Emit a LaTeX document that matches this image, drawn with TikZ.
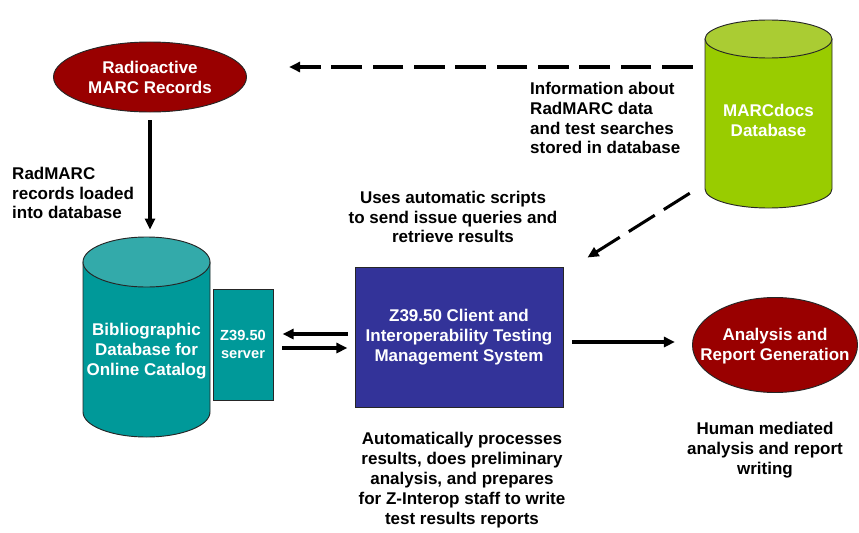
\documentclass[tikz,border=0pt]{standalone}
\usepackage{fontspec}
\setmainfont{Liberation Sans}
\usetikzlibrary{shapes.geometric,arrows.meta,calc}
\definecolor{darkred}{HTML}{990000}
\definecolor{dbteal}{HTML}{009999}
\definecolor{dbtealtop}{HTML}{33AAAA}
\definecolor{dbgreen}{HTML}{99CC00}
\definecolor{dbgreentop}{HTML}{AACC33}
\definecolor{sysblue}{HTML}{333399}
\begin{document}
\begin{tikzpicture}[x=.03cm,y=.03cm,
	boxtext/.style={font=\bfseries\fontsize{14.5}{17}\selectfont,align=center,inner sep=0pt},
	white text/.style={boxtext,text=white},
	outline/.style={draw=black!85,line width=.8pt},
	arr/.style={line width=2.6pt,-{Triangle[length=9.5pt,width=8.5pt]}},
	dasharr/.style={arr,dash pattern=on .92cm off .32cm}]
\useasboundingbox (0,0) rectangle (859,-533);
% the two databases
\filldraw[outline,fill=dbteal]
	(83,-262)--(83,-412)arc[start angle=180,end angle=360,x radius=63.5,y radius=25]--(210,-262)--cycle;
\filldraw[outline,fill=dbtealtop](146.5,-262)ellipse[x radius=63.5,y radius=25];
\filldraw[outline,fill=dbgreen]
	(705,-39)--(705,-189)arc[start angle=180,end angle=360,x radius=63.5,y radius=19]--(832,-39)--cycle;
\filldraw[outline,fill=dbgreentop](768.5,-39)ellipse[x radius=63.5,y radius=19];
\node[minimum width=3.81cm,minimum height=6cm,inner sep=0](bibdb)at(146.5,-337){};
\node[minimum width=3.81cm,minimum height=5.64cm,inner sep=0](marcdb)at(768.5,-114){};
\node[white text](bibtxt)at(146.5,-351){Bibliographic\\Database for\\Online Catalog};
\node[white text](marctxt)at(768.5,-120){MARCdocs\\Database};
% records and report ellipses
\node[ellipse,outline,fill=darkred,minimum width=5.79cm,minimum height=2.1cm](radmarc)at(150,-77){};
\node[white text](radtxt)at(radmarc){Radioactive\\MARC Records};
\node[ellipse,outline,fill=darkred,minimum width=4.95cm,minimum height=2.85cm](analysis)at(775,-345){};
\node[white text](antxt)at(775,-346){Analysis and\\Report Generation};
% server and client
\node[outline,fill=dbteal,minimum width=1.8cm,minimum height=3.33cm,inner sep=1pt,text=white,
	font=\bfseries\fontsize{12.5}{16}\selectfont,align=center](server)at(243,-344.5){Z39.50\\server};
\node[white text,outline,fill=sysblue,minimum width=6.24cm,minimum height=4.2cm](client)at(459,-337)
	{Z39.50 Client and\\Interoperability Testing\\Management System};
% connectors
\draw[arr]($(radmarc.south)+(0,-8)$)--($(radmarc.south|-bibdb.north)+(0,7)$);
\draw[arr]($(client.west)+(-7,3)$)--($(server.east)+(9,10.5)$);
\draw[arr]($(server.east)+(9,-3.5)$)--($(client.west)+(-7,-11)$);
\draw[arr]($(client.east)+(9,-5)$)--($(analysis.west)+(-17,3)$);
\draw[dasharr]($(marcdb.west)+(-12,47)$)--($(radmarc.east)+(42,10)$);
\draw[dasharr]($(marcdb.south west)+(-15,15)$)--($(client.north east)+(24,9)$);
% notes
\node[boxtext,align=left,anchor=west](loadtxt)at(12,-193){RadMARC\\records loaded\\into database};
\node[boxtext,align=left,anchor=west](infotxt)at(530,-118){Information about\\RadMARC data\\and test searches\\stored in database};
\node[boxtext](scripttxt)at(453,-217){Uses automatic scripts\\to send issue queries and\\retrieve results};
\node[boxtext](proctxt)at(462,-480){Automatically processes\\results, does preliminary\\analysis, and prepares\\for Z-Interop staff to write\\test results reports};
\node[boxtext](humantxt)at(765,-450){Human mediated\\analysis and report\\writing};
\end{tikzpicture}
\end{document}
